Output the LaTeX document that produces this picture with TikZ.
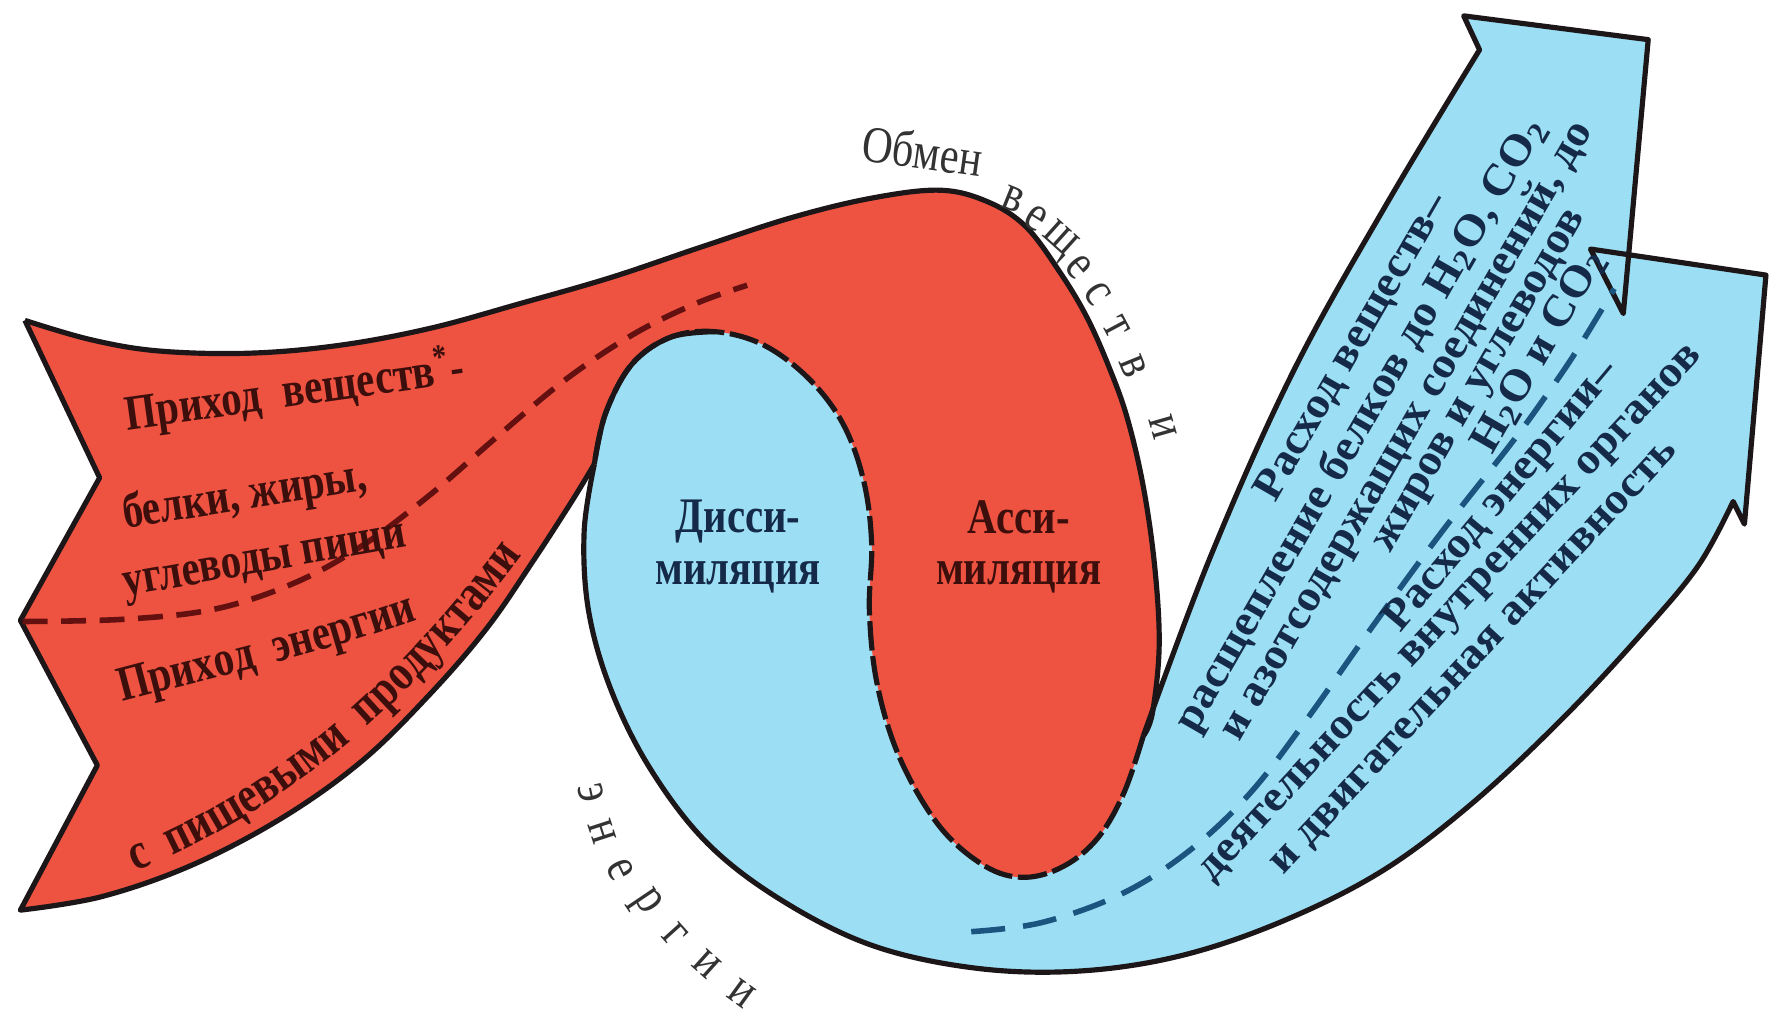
\documentclass[tikz,border=0pt]{standalone}
\usepackage{fontspec}
\setmainfont{Liberation Serif}
\newfontfamily\narrowserif[FakeStretch=0.82]{Liberation Serif}
\newfontfamily\wideserif[FakeStretch=1.06]{Liberation Serif}
\usetikzlibrary{decorations.text}
\definecolor{redfill}{RGB}{238,82,64}
\definecolor{bluefill}{RGB}{156,223,245}
\definecolor{redink}{RGB}{60,14,12}
\definecolor{blueink}{RGB}{20,42,72}
\definecolor{reddash}{RGB}{100,16,16}
\definecolor{bluedash}{RGB}{28,84,128}
\definecolor{outline}{RGB}{28,22,24}
\begin{document}
\begin{tikzpicture}
[x=0.1mm, y=-0.1mm, line join=round]
\tikzstyle{edge}=[draw=outline, line width=1.3pt]
\tikzstyle{redtext}=[text=redink, font=\narrowserif\bfseries\fontsize{12.5}{14}\selectfont, inner sep=0pt]
\tikzstyle{bluetext}=[text=blueink, font=\wideserif\bfseries\fontsize{11}{13}\selectfont, inner sep=0pt]
\tikzstyle{arctext}=[text=black!80, font=\narrowserif\fontsize{13}{15}\selectfont, inner sep=0pt]
\tikzstyle{midtext}=[align=center, font=\narrowserif\bfseries\fontsize{12.5}{13}\selectfont, inner sep=0pt]
\useasboundingbox (0,0) rectangle (1568,910);

\coordinate (A)  at (22,283);
\coordinate (B)  at (88,422);
\coordinate (C)  at (18,548);
\coordinate (D)  at (86,676);
\coordinate (E)  at (18,804);
\coordinate (J1) at (525,410);
\coordinate (J2) at (1010,650);
\coordinate (N1) at (1307,44);
\coordinate (B1) at (1293,14);
\coordinate (T1) at (1456,35);
\coordinate (R1) at (1434,277);
\coordinate (B2) at (1405,220);
\coordinate (T2) at (1560,243);
\coordinate (Q2) at (1541,463);
\coordinate (P2) at (1531,443);

\fill[bluefill] (J1) -- plot[smooth, tension=0.6] coordinates {(525,410) (516,470) (520,540) (540,610) (575,680) (625,745) (690,795) (770,835) (860,855) (950,858) (1040,845) (1130,815) (1220,770) (1300,710) (1380,635) (1450,560) (1500,500) (1531,443)}
  -- (Q2) -- (T2) -- (B2) -- (R1) -- (T1) -- (B1) -- (N1)
  -- plot[smooth, tension=0.6] coordinates {(1307,44) (1225,180) (1143,327) (1070,490) (1010,650)}
  -- (1000,420) -- (880,215) -- (640,265) -- (520,300) -- (505,400) -- cycle;

\fill[redfill] (A) -- plot[smooth, tension=0.6] coordinates {(22,283) (80,300) (140,310) (220,312) (300,305) (380,290) (460,268) (540,245) (620,218) (700,192) (770,175) (830,168) (872,178) (906,200) (936,240) (960,280) (980,325) (996,370) (1010,430) (1020,500) (1024,570) (1018,630) (1010,650)}
  -- plot[smooth, tension=0.6] coordinates {(1010,650) (993,700) (970,740) (940,765) (905,775) (870,765) (830,730) (795,670) (775,605) (768,540) (770,480) (763,425) (745,375) (715,335) (675,305) (632,293) (592,298) (558,322) (535,365) (525,410)}
  -- plot[smooth, tension=0.6] coordinates {(525,410) (505,443) (470,497) (430,555) (380,613) (320,672) (250,722) (170,764) (90,792) (18,804)}
  -- (D) -- (C) -- (B) -- cycle;

\draw[edge] (J1) plot[smooth, tension=0.6] coordinates {(525,410) (516,470) (520,540) (540,610) (575,680) (625,745) (690,795) (770,835) (860,855) (950,858) (1040,845) (1130,815) (1220,770) (1300,710) (1380,635) (1450,560) (1500,500) (1531,443)}
  -- (Q2) -- (T2) -- (B2) -- (R1) -- (T1) -- (B1) -- (N1)
  -- plot[smooth, tension=0.6] coordinates {(1307,44) (1225,180) (1143,327) (1070,490) (1010,650)};
\draw[edge] plot[smooth, tension=0.6] coordinates {(22,283) (80,300) (140,310) (220,312) (300,305) (380,290) (460,268) (540,245) (620,218) (700,192) (770,175) (830,168) (872,178) (906,200) (936,240) (960,280) (980,325) (996,370) (1010,430) (1020,500) (1024,570) (1018,630) (1010,650)};
\draw[edge] plot[smooth, tension=0.6] coordinates {(525,410) (505,443) (470,497) (430,555) (380,613) (320,672) (250,722) (170,764) (90,792) (18,804)}
  -- (D) -- (C) -- (B) -- (A);
\draw[edge, dash pattern=on 2.6mm off 0.5mm] plot[smooth, tension=0.6] coordinates {(1010,650) (993,700) (970,740) (940,765) (905,775) (870,765) (830,730) (795,670) (775,605) (768,540) (770,480) (763,425) (745,375) (715,335) (675,305) (632,293) (592,298) (558,322) (535,365) (525,410)};
\draw[edge] plot[smooth, tension=0.6] coordinates {(632,293) (592,298) (558,322) (535,365) (525,410)};

\draw[reddash, line width=1.4pt, dash pattern=on 2.2mm off 1.2mm] plot[smooth, tension=0.6] coordinates {(20,549) (110,547) (190,538) (260,515) (320,482) (380,437) (440,385) (500,335) (560,295) (615,268) (660,252)};
\draw[bluedash, line width=1.4pt, dash pattern=on 3mm off 1.6mm] plot[smooth, tension=0.6] coordinates {(858,823) (920,815) (990,790) (1050,752) (1104,701) (1154,636) (1212,554) (1272,472) (1334,393) (1364,352) (1392,311) (1426,255)};

\node[redtext, rotate=8, anchor=base west]  (InSub)  at (112,380) {Приход\hspace{0.45em}веществ\textsuperscript{*}-};
\node[redtext, rotate=9, anchor=base west]  (InFood) at (110,467) {белки, жиры,};
\node[redtext, rotate=10, anchor=base west] (InCarb) at (110,527) {углеводы пищи};
\path[decorate, decoration={text along path,
  text={|\narrowserif\bfseries\fontsize{12.5}{14}\selectfont\color{redink}|Приход{\ \ }энергии}}]
  (1.08cm,-6.20cm) .. controls (1.90cm,-5.98cm) and (2.85cm,-5.78cm) .. (3.90cm,-5.40cm);
\path[decorate, decoration={text along path,
  text={|\narrowserif\bfseries\fontsize{13}{15}\selectfont\color{redink}|с{\ \ }пищевыми{\ \ }продуктами}}]
  (1.20cm,-7.70cm) .. controls (2.30cm,-7.25cm) and (3.60cm,-6.40cm) .. (4.90cm,-4.50cm);

\node[midtext, text=blueink] (Dis) at (652,483) {Дисси-\\миляция};
\node[midtext, text=redink]  (Ass) at (900,483) {Асси-\\миляция};

\node[arctext, rotate=-8] (Obmen) at (815,133) {Обмен};
\foreach \ch/\px/\py/\ang [count=\i] in {в/895/176/-22, е/915/193/-32, щ/935/213/-42, е/953/236/-50, с/970/259/-56, т/986/289/-62, в/1001/324/-68, и/1027/377/-74}
  \node[arctext, rotate=\ang] (Mv\i) at (\px,\py) {\ch};
\foreach \ch/\px/\py/\ang [count=\i] in {э/522/700/-78, н/532/735/-72, е/548/768/-64, р/570/798/-56, г/596/826/-48, и/624/852/-42, и/655/878/-36}
  \node[arctext, rotate=\ang] (En\i) at (\px,\py) {\ch};

\node[bluetext, rotate=60] (OutSub1) at (1195,307) {Расход веществ–};
\node[bluetext, rotate=60] (OutSub2) at (1203,375) {расщепление белков до H\textsubscript{2}O, CO\textsubscript{2}};
\node[bluetext, rotate=60] (OutSub3) at (1243,381) {и азотсодержащих соединений, до};
\node[bluetext, rotate=60] (OutSub4) at (1310,338) {жиров и углеводов};
\node[bluetext, rotate=60] (OutSub5) at (1360,310) {H\textsubscript{2}O и CO\textsubscript{2}};

\node[bluetext, rotate=50] (OutEn1) at (1327,439) {Расход энергии–};
\node[bluetext, rotate=47] (OutEn2) at (1284,544) {деятельность внутренних органов};
\node[bluetext, rotate=47] (OutEn3) at (1304,582) {и двигательная активность};
\end{tikzpicture}
\end{document}
